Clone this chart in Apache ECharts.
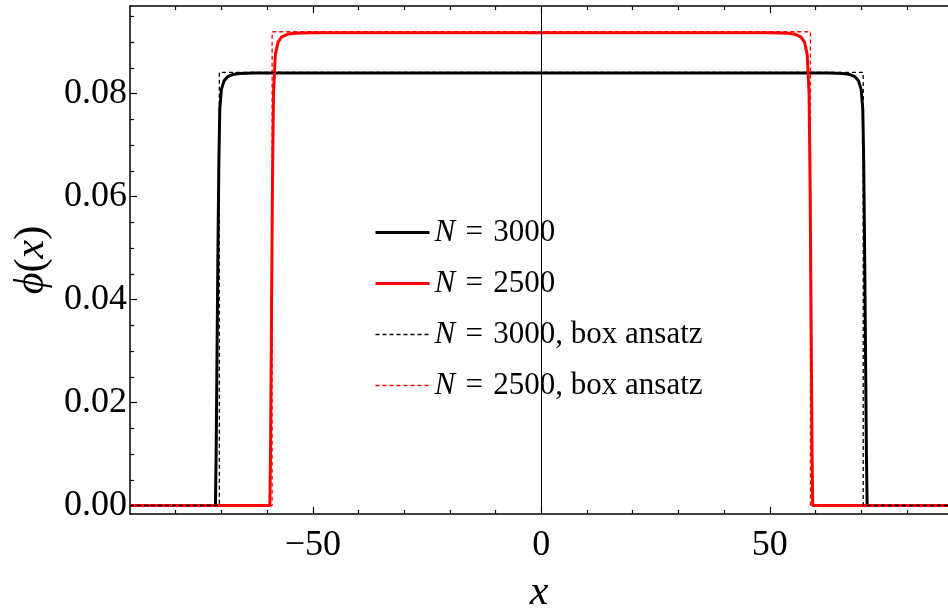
<!DOCTYPE html>
<html>
<head>
<meta charset="utf-8">
<title>phi(x) profiles</title>
<script src="https://cdn.jsdelivr.net/npm/echarts@6/dist/echarts.min.js"></script>
<style>
  html, body { margin: 0; padding: 0; background: #fff; }
  #echarts { width: 948px; height: 610px; }
</style>
</head>
<body>
<div id="echarts"></div>
<script>
// solid curves
const x3000 = [-90, -71.3, -71.15, -70.95, -70.75, -70.55, -70.35, -70.0, -69.4, -68.6, -67.5, -66, -63, 0, 63, 66, 67.5, 68.6, 69.4, 70.0, 70.35, 70.55, 70.75, 70.95, 71.15, 71.3, 89];
const y3000 = [0, 0, 0.01, 0.03, 0.05, 0.067, 0.077, 0.0808, 0.0825, 0.0833, 0.0837, 0.0839, 0.0840, 0.0840, 0.0840, 0.0839, 0.0837, 0.0833, 0.0825, 0.0808, 0.077, 0.067, 0.05, 0.03, 0.01, 0, 0];
const x2500 = [-90, -59.4, -59.25, -59.05, -58.85, -58.6, -58.2, -57.6, -56.8, -55.6, -54, -50, 0, 50, 54, 55.6, 56.8, 57.6, 58.2, 58.6, 58.85, 59.05, 59.25, 59.4, 89];
const y2500 = [0, 0, 0.01, 0.035, 0.06, 0.08, 0.0875, 0.09, 0.091, 0.0915, 0.0917, 0.0918, 0.0918, 0.0918, 0.0917, 0.0915, 0.091, 0.09, 0.0875, 0.08, 0.06, 0.035, 0.01, 0, 0];
// box ansatz
const xBox3000 = [-90, -70.45, -70.45, 70.45, 70.45, 89];
const yBox3000 = [0, 0, 0.0841, 0.0841, 0, 0];
const xBox2500 = [-90, -58.9, -58.9, 58.9, 58.9, 89];
const yBox2500 = [0, 0, 0.0920, 0.0920, 0, 0];

const names = ['N = 3000', 'N = 2500', 'N = 3000, box ansatz', 'N = 2500, box ansatz'];
const xMajor = [-50, 0, 50];
const xMinor = [-80, -70, -60, -40, -30, -20, -10, 10, 20, 30, 40, 60, 70, 80];
const yMajor = [0, 0.02, 0.04, 0.06, 0.08];
const yMinor = [0.005, 0.01, 0.015, 0.025, 0.03, 0.035, 0.045, 0.05, 0.055, 0.065, 0.07, 0.075, 0.085, 0.09, 0.095];

const FONT = 'Liberation Serif';

function pairs(xs, ys) {
  return xs.map((x, i) => [x, ys[i]]);
}

function xAxisDef(position, ticks, len, withLine, withLabel) {
  return {
    type: 'value',
    position: position,
    min: -90,
    max: 89,
    axisLine: { show: withLine, onZero: false, lineStyle: { color: '#000', width: 1.5 } },
    axisTick: { show: true, inside: true, length: len, customValues: ticks, lineStyle: { color: '#000', width: 1.2 } },
    axisLabel: {
      show: withLabel,
      customValues: ticks,
      margin: 14,
      color: '#000',
      fontFamily: FONT,
      fontSize: 36,
      formatter: (v) => (v < 0 ? '\u2212' + Math.abs(v) : String(v)),
    },
    splitLine: { show: false },
  };
}

function yAxisDef(ticks, len, withLine, withLabel) {
  return {
    type: 'value',
    position: 'left',
    min: -0.00165,
    max: 0.097,
    axisLine: { show: withLine, onZero: false, lineStyle: { color: '#000', width: 1.5 } },
    axisTick: { show: true, inside: true, length: len, customValues: ticks, lineStyle: { color: '#000', width: 1.2 } },
    axisLabel: {
      show: withLabel,
      customValues: ticks,
      margin: 3,
      color: '#000',
      fontFamily: FONT,
      fontSize: 36,
      formatter: (v) => v.toFixed(2),
    },
    splitLine: { show: false },
  };
}

const xBottom = xAxisDef('bottom', xMajor, 7, true, true);
xBottom.name = '{i|x}';
xBottom.nameLocation = 'middle';
xBottom.nameGap = 58;
xBottom.nameTextStyle = { rich: { i: { fontFamily: FONT, fontStyle: 'italic', fontSize: 42, color: '#000' } } };

const yLeft = yAxisDef(yMajor, 7, true, true);
yLeft.name = '{i|\u03D5}{r|(}{i|x}{r|)}';
yLeft.nameLocation = 'middle';
yLeft.nameRotate = 90;
yLeft.nameGap = 75;
yLeft.nameTextStyle = {
  rich: {
    i: { fontFamily: FONT, fontStyle: 'italic', fontSize: 42, color: '#000' },
    r: { fontFamily: FONT, fontSize: 42, color: '#000' },
  },
};

const option = {
  animation: false,
  backgroundColor: '#fff',
  grid: {
    left: 130,
    right: 0,
    top: 6,
    bottom: 96,
    containLabel: false,
    outerBoundsMode: 'none',
  },
  legend: {
    data: [
      { name: names[0], lineStyle: { width: 3 } },
      { name: names[1], lineStyle: { width: 3 } },
      { name: names[2], lineStyle: { width: 1.3 } },
      { name: names[3], lineStyle: { width: 1.3 } },
    ],
    orient: 'vertical',
    left: 374,
    top: 217,
    padding: 0,
    itemWidth: 54,
    itemHeight: 14,
    itemGap: 20,
    selectedMode: false,
    itemStyle: { opacity: 0 },
    textStyle: {
      fontFamily: FONT,
      fontSize: 31,
      color: '#000',
      lineHeight: 30,
      rich: {
        i: { fontFamily: FONT, fontStyle: 'italic', fontSize: 31, color: '#000' },
        r: { fontFamily: FONT, fontSize: 31, color: '#000' },
      },
    },
    formatter: (name) => '{i|N}{r|' + name.slice(1).replace(' = ', ' \u200A=\u200A ') + '}',
  },
  xAxis: [
    xBottom,
    xAxisDef('bottom', xMinor, 4, false, false),
    xAxisDef('top', xMajor, 7, true, false),
    xAxisDef('top', xMinor, 4, false, false),
  ],
  yAxis: [
    yLeft,
    yAxisDef(yMinor, 4, false, false),
  ],
  series: [
    {
      name: names[0],
      type: 'line',
      data: pairs(x3000, y3000),
      symbol: 'none',
      smooth: false,
      lineStyle: { color: '#000', width: 3 },
      itemStyle: { color: '#000' },
      markLine: {
        silent: true,
        symbol: 'none',
        label: { show: false },
        lineStyle: { color: '#000', width: 1, type: 'solid' },
        data: [{ xAxis: 0 }],
      },
    },
    {
      name: names[1],
      type: 'line',
      data: pairs(x2500, y2500),
      symbol: 'none',
      lineStyle: { color: '#ff0000', width: 3 },
      itemStyle: { color: '#ff0000' },
    },
    {
      name: names[3],
      type: 'line',
      data: pairs(xBox2500, yBox2500),
      symbol: 'none',
      lineStyle: { color: '#ff0000', width: 1.3, type: [4, 3] },
      itemStyle: { color: '#ff0000' },
    },
    {
      name: names[2],
      type: 'line',
      data: pairs(xBox3000, yBox3000),
      symbol: 'none',
      lineStyle: { color: '#000', width: 1.3, type: [4, 3] },
      itemStyle: { color: '#000' },
    },
  ],
};

const myChart = echarts.init(document.getElementById('echarts'), null, { renderer: 'canvas' });
myChart.setOption(option);
</script>
</body>
</html>
